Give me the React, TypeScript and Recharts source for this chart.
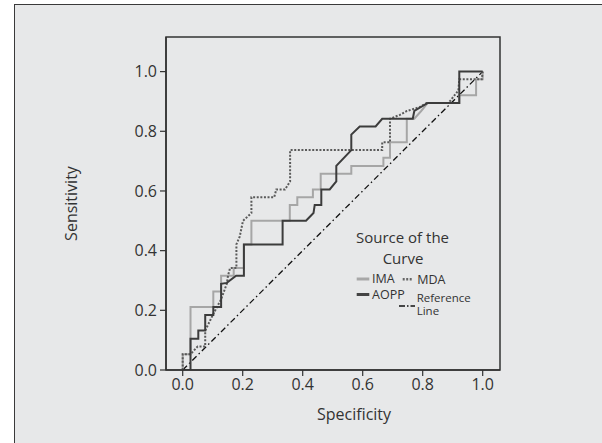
import { LineChart, Line, XAxis, YAxis, ReferenceArea, Label } from "recharts"

// ROC curves: [1 - specificity, sensitivity]
const imaPoints: [number, number][] = [
    [0, 0], [0, 0.053], [0.026, 0.053], [0.026, 0.211], [0.102, 0.211], [0.102, 0.263],
    [0.128, 0.263], [0.128, 0.316], [0.17, 0.316], [0.17, 0.342], [0.204, 0.342],
    [0.204, 0.421], [0.229, 0.421], [0.229, 0.5], [0.357, 0.5], [0.357, 0.553],
    [0.382, 0.553], [0.382, 0.579], [0.434, 0.579], [0.434, 0.605], [0.46, 0.605],
    [0.46, 0.658], [0.562, 0.658], [0.562, 0.684], [0.669, 0.684], [0.669, 0.711],
    [0.691, 0.711], [0.691, 0.763], [0.747, 0.763], [0.747, 0.842], [0.772, 0.842],
    [0.795, 0.868], [0.817, 0.895], [0.922, 0.895], [0.922, 0.921], [0.978, 0.921],
    [0.978, 0.974], [1, 0.974], [1, 1],
]

const aoppPoints: [number, number][] = [
    [0, 0], [0.026, 0], [0.026, 0.105], [0.052, 0.105], [0.052, 0.132], [0.075, 0.132],
    [0.075, 0.184], [0.102, 0.184], [0.102, 0.211], [0.128, 0.211], [0.128, 0.289],
    [0.147, 0.292], [0.178, 0.316], [0.204, 0.316], [0.204, 0.421], [0.333, 0.421],
    [0.333, 0.5], [0.411, 0.5], [0.436, 0.526], [0.44, 0.553], [0.462, 0.553],
    [0.462, 0.605], [0.49, 0.605], [0.512, 0.632], [0.512, 0.684], [0.562, 0.737],
    [0.562, 0.789], [0.59, 0.816], [0.643, 0.816], [0.665, 0.842], [0.767, 0.842],
    [0.772, 0.868], [0.817, 0.895], [0.922, 0.895], [0.922, 1], [1, 1],
]

const mdaPoints: [number, number][] = [
    [0, 0], [0, 0.053], [0.026, 0.053], [0.05, 0.079], [0.075, 0.079], [0.075, 0.132],
    [0.1, 0.184], [0.128, 0.237], [0.147, 0.289], [0.151, 0.316], [0.158, 0.342],
    [0.179, 0.342], [0.179, 0.421], [0.19, 0.447], [0.201, 0.5], [0.229, 0.526],
    [0.229, 0.579], [0.305, 0.579], [0.312, 0.605], [0.341, 0.605], [0.358, 0.632],
    [0.358, 0.737], [0.665, 0.737], [0.665, 0.763], [0.691, 0.763], [0.691, 0.842],
    [0.724, 0.855], [0.747, 0.868], [0.79, 0.881], [0.813, 0.895], [0.886, 0.895],
    [0.919, 0.937], [0.922, 0.974], [0.997, 0.974], [1, 1],
]

const referencePoints: [number, number][] = [[0, 0], [1, 1]]

const axisTicks = [0, 0.2, 0.4, 0.6, 0.8, 1.0]
const xDomain: [number, number] = [-0.0557, 1.0577]
const yDomain: [number, number] = [0, 1.116]

const toRows = (pts: [number, number][]) => pts.map(([x, y]) => ({ x, y }))

const FONT = "'Open Sans', 'Noto Sans', sans-serif"
const INK = "#333"

// legend drawn as its own overlay so it does not eat into the plot height
const CurveLegend = () => (
    <svg
        width={140}
        height={100}
        style={{ position: "absolute", left: 350, top: 225, fontFamily: FONT, overflow: "visible" }}
    >
        <text x={52.5} y={18} textAnchor="middle" fontSize={15} fill={INK}>Source of the</text>
        <text x={53} y={38.5} textAnchor="middle" fontSize={15} fill={INK}>Curve</text>

        <line x1={6.7} x2={19.3} y1={54} y2={54} stroke="#a8a8a8" strokeWidth={3} />
        <text x={22} y={58} fontSize={12.5} fill={INK}>IMA</text>

        <line x1={52.7} x2={62.7} y1={54.3} y2={54.3} stroke="#666" strokeWidth={2.5} strokeDasharray="2 1.5" />
        <text x={67.3} y={58.8} fontSize={12.5} fill={INK}>MDA</text>

        <line x1={6.7} x2={19.3} y1={69.5} y2={69.5} stroke="#444" strokeWidth={3} />
        <text x={22} y={74.3} fontSize={12.5} fill={INK}>AOPP</text>

        <line x1={49} x2={65} y1={81} y2={81} stroke="#111" strokeWidth={1.5} strokeDasharray="6 2 1.5 2" />
        <text x={66.7} y={76.5} fontSize={11.5} fill={INK}>Reference</text>
        <text x={66.7} y={90} fontSize={11.5} fill={INK}>Line</text>
    </svg>
)

const App = () => {
    return (
        <div style={{ position: "absolute", left: 0, top: 0, width: 602, height: 443, background: "#fff", overflow: "hidden" }}>
            <div
                style={{
                    position: "absolute",
                    left: 14,
                    top: 4,
                    width: 602,
                    height: 443,
                    background: "#e7e8e9",
                    borderLeft: "1.5px solid #3a3a3a",
                    borderTop: "1.5px solid #3a3a3a",
                }}
            />
            <div style={{ position: "absolute", left: 0, top: 0 }}>
                <LineChart width={602} height={443} margin={{ top: 37, right: 102, left: 56, bottom: 33 }}>
                    <XAxis
                        type="number"
                        dataKey="x"
                        domain={xDomain}
                        ticks={axisTicks}
                        allowDataOverflow
                        height={40}
                        tickFormatter={(v: number) => v.toFixed(1)}
                        axisLine={{ stroke: INK, strokeWidth: 1.5 }}
                        tickLine={{ stroke: INK, strokeWidth: 1.2 }}
                        tickSize={6}
                        tickMargin={3}
                        tick={{ fill: INK, fontSize: 16, fontFamily: FONT }}
                    >
                        <Label
                            content={({ viewBox }: any) => (
                                <text
                                    x={viewBox.x + viewBox.width / 2 + 21}
                                    y={viewBox.y + 50}
                                    textAnchor="middle"
                                    fontSize={16}
                                    fontFamily={FONT}
                                    fill={INK}
                                >
                                    Specificity
                                </text>
                            )}
                        />
                    </XAxis>
                    <YAxis
                        type="number"
                        dataKey="y"
                        domain={yDomain}
                        ticks={axisTicks}
                        allowDataOverflow
                        width={110}
                        tickFormatter={(v: number) => v.toFixed(1)}
                        axisLine={{ stroke: INK, strokeWidth: 1.5 }}
                        tickLine={{ stroke: INK, strokeWidth: 1.2 }}
                        tickSize={6}
                        tickMargin={3}
                        tick={{ fill: INK, fontSize: 16, fontFamily: FONT }}
                    >
                        <Label
                            content={({ viewBox }: any) => {
                                const cx = viewBox.x + 17
                                const cy = viewBox.y + viewBox.height / 2
                                return (
                                    <text
                                        x={cx}
                                        y={cy}
                                        textAnchor="middle"
                                        dominantBaseline="middle"
                                        transform={`rotate(-90 ${cx} ${cy})`}
                                        fontSize={16}
                                        fontFamily={FONT}
                                        fill={INK}
                                    >
                                        Sensitivity
                                    </text>
                                )
                            }}
                        />
                    </YAxis>
                    <ReferenceArea
                        x1={xDomain[0]}
                        x2={xDomain[1]}
                        y1={yDomain[0]}
                        y2={yDomain[1]}
                        fill="none"
                        stroke={INK}
                        strokeWidth={1.5}
                        ifOverflow="visible"
                    />
                    <Line
                        data={toRows(referencePoints)}
                        dataKey="y"
                        name="Reference Line"
                        type="linear"
                        stroke="#111"
                        strokeWidth={1.3}
                        strokeDasharray="6 3 1.5 3"
                        dot={false}
                        activeDot={false}
                        isAnimationActive={false}
                    />
                    <Line
                        data={toRows(imaPoints)}
                        dataKey="y"
                        name="IMA"
                        type="linear"
                        stroke="#a6a6a6"
                        strokeWidth={2}
                        dot={false}
                        activeDot={false}
                        isAnimationActive={false}
                    />
                    <Line
                        data={toRows(mdaPoints)}
                        dataKey="y"
                        name="MDA"
                        type="linear"
                        stroke="#5a5a5a"
                        strokeWidth={2}
                        strokeDasharray="2 1.6"
                        dot={false}
                        activeDot={false}
                        isAnimationActive={false}
                    />
                    <Line
                        data={toRows(aoppPoints)}
                        dataKey="y"
                        name="AOPP"
                        type="linear"
                        stroke="#3c3c3c"
                        strokeWidth={2}
                        dot={false}
                        activeDot={false}
                        isAnimationActive={false}
                    />
                </LineChart>
            </div>
            <CurveLegend />
        </div>
    )
}

export default App
